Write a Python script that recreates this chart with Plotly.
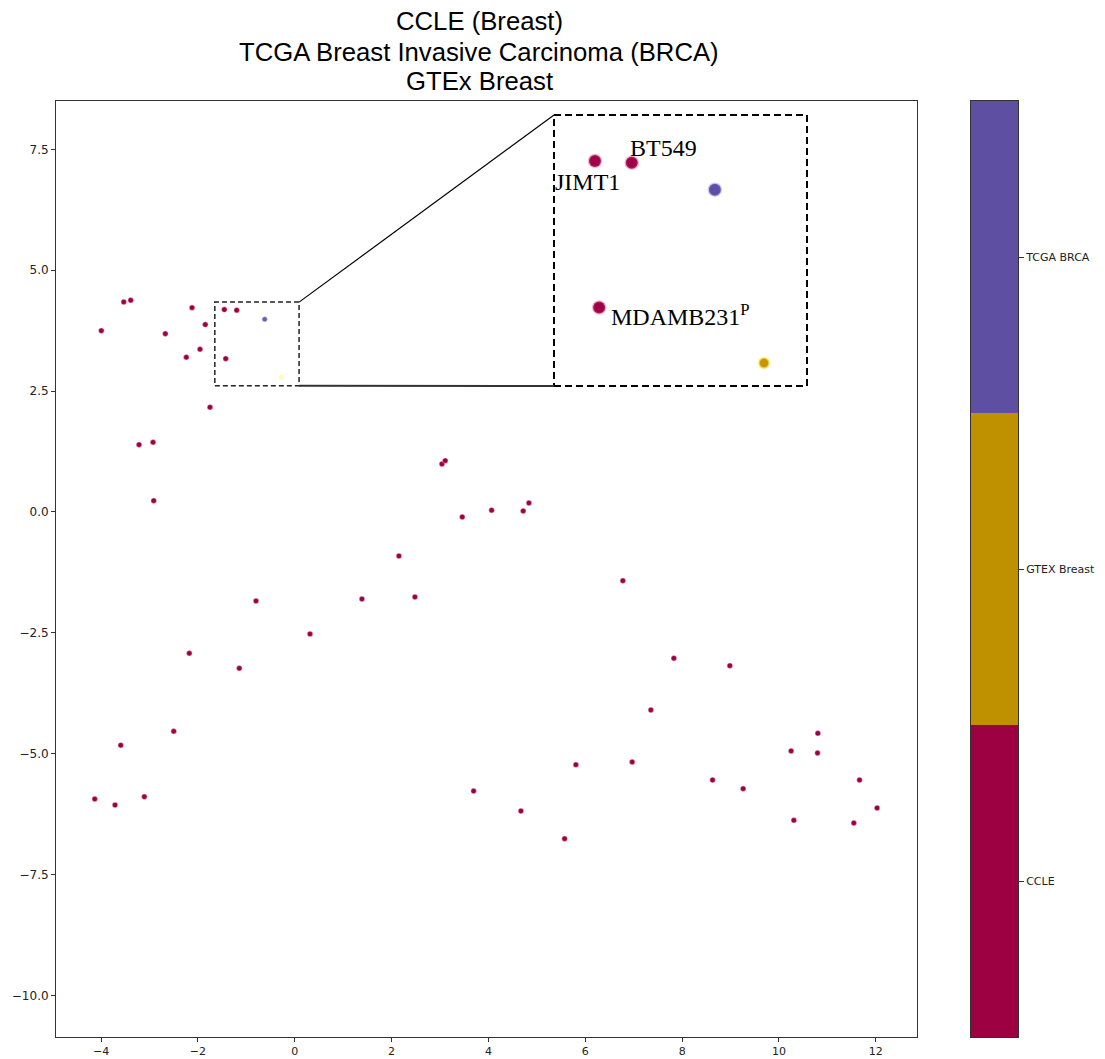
import plotly.graph_objects as go

# ---------------- data ----------------
ccle_x = [-3.994, -3.531, -3.387, -2.672, -2.121, -2.239, -1.956, -1.847, -1.454, -1.198,
          -1.425, -1.750, -3.215, -2.926, -2.912, 3.040, 3.108, 3.459, 4.066, 4.718,
          4.836, 2.152, -0.800, 0.315, 1.388, 2.482, -2.177, -1.145, -2.499, -3.593,
          -4.130, -3.711, -3.106, 6.776, 7.829, 8.985, 7.355, 10.802, 10.251, 10.796,
          5.806, 6.968, 11.663, 8.628, 9.260, 3.694, 12.026, 4.671, 10.307, 11.545, 5.573]
ccle_y = [3.750, 4.344, 4.379, 3.688, 4.226, 3.200, 3.366, 3.875, 4.185, 4.173,
          3.171, 2.166, 1.392, 1.442, 0.234, 0.993, 1.061, -0.103, 0.035, 0.021,
          0.186, -0.910, -1.841, -2.524, -1.800, -1.758, -2.923, -3.233, -4.537, -4.826,
          -5.937, -6.061, -5.890, -1.421, -3.026, -3.180, -4.096, -4.578, -4.944, -4.985,
          -5.228, -5.172, -5.544, -5.544, -5.724, -5.772, -6.123, -6.185, -6.378, -6.434, -6.758]
tcga_x = [-0.620]
tcga_y = [3.986]
gtex_x = [-0.278]
gtex_y = [2.787]

label_names = ["JIMT1", "BT549", "MDAMB231<sup>P</sup>"]
label_index = [8, 9, 10]          # indices into ccle_x / ccle_y

x_ticks = [-4, -2, 0, 2, 4, 6, 8, 10, 12]
x_ticktext = ["\u22124", "\u22122", "0", "2", "4", "6", "8", "10", "12"]
y_ticks = [7.5, 5.0, 2.5, 0.0, -2.5, -5.0, -7.5, -10.0]
y_ticktext = ["7.5", "5.0", "2.5", "0.0", "\u22122.5", "\u22125.0", "\u22127.5", "\u221210.0"]

cbar_labels = ["CCLE", "GTEX Breast", "TCGA BRCA"]
cbar_colors = ["#9e0142", "#bf9000", "#5e4fa2"]

zoom_box_x = [-1.65, 0.09]
zoom_box_y = [2.61, 4.34]

title_lines = ["CCLE (Breast)", "TCGA Breast Invasive Carcinoma (BRCA)", "GTEx Breast"]

# ---------------- layout helpers ----------------
OFF = 8   # page body margin
W, H = 1105 - OFF, 1059 - OFF
def fx(px):
    return (px - OFF) / W
def fy(py):
    return 1 - (py - OFF) / H

main_left, main_right, main_top, main_bottom = 56, 917, 101, 1037
xr = [-4.93, 12.85]
yr = [-10.86, 8.50]
inset_l, inset_r, inset_t, inset_b = 554, 807, 115, 386
ixr = [-1.739, 0.021]
iyr = [2.628, 4.503]

def data_to_px(x, y):
    px = main_left + (x - xr[0]) / (xr[1] - xr[0]) * (main_right - main_left)
    py = main_bottom - (y - yr[0]) / (yr[1] - yr[0]) * (main_bottom - main_top)
    return px, py

fig = go.Figure()

# main scatter
fig.add_trace(go.Scatter(x=ccle_x, y=ccle_y, mode="markers", xaxis="x", yaxis="y",
                         marker=dict(size=5.5, color="#9e0142", line=dict(width=0.6, color="rgba(255,200,220,0.8)")),
                         showlegend=False, hoverinfo="skip"))
fig.add_trace(go.Scatter(x=tcga_x, y=tcga_y, mode="markers", xaxis="x", yaxis="y",
                         marker=dict(size=5, color="#6a5db0", line=dict(width=0.5, color="#c8c2ea")),
                         showlegend=False, hoverinfo="skip"))
fig.add_trace(go.Scatter(x=gtex_x, y=gtex_y, mode="markers", xaxis="x", yaxis="y",
                         marker=dict(size=5, color="#fffbb0", line=dict(width=0)),
                         showlegend=False, hoverinfo="skip"))

# inset scatter
fig.add_trace(go.Scatter(x=ccle_x, y=ccle_y, mode="markers", xaxis="x2", yaxis="y2",
                         marker=dict(size=12, color="#a0004a", line=dict(width=2.5, color="rgba(200,60,110,0.35)")),
                         showlegend=False, hoverinfo="skip"))
fig.add_trace(go.Scatter(x=tcga_x, y=tcga_y, mode="markers", xaxis="x2", yaxis="y2",
                         marker=dict(size=12, color="#5b4fa8", line=dict(width=2.5, color="rgba(120,110,200,0.35)")),
                         showlegend=False, hoverinfo="skip"))
fig.add_trace(go.Scatter(x=gtex_x, y=gtex_y, mode="markers", xaxis="x2", yaxis="y2",
                         marker=dict(size=11, color="#c99600", line=dict(width=2.5, color="rgba(255,250,150,0.6)")),
                         showlegend=False, hoverinfo="skip"))

# discrete colorbar
fig.add_trace(go.Heatmap(x=[0], y=[0, 1, 2], z=[[0], [1], [2]], xaxis="x3", yaxis="y3",
                         zmin=0, zmax=2, showscale=False, hoverinfo="skip",
                         colorscale=[[0, cbar_colors[0]], [0.3333, cbar_colors[0]],
                                     [0.3333, cbar_colors[1]], [0.6667, cbar_colors[1]],
                                     [0.6667, cbar_colors[2]], [1, cbar_colors[2]]]))

xtickfont = dict(family="DejaVu Sans", size=11, color="#222")
ytickfont = dict(family="DejaVu Sans", size=12, color="#222")
cbfont = dict(family="DejaVu Sans", size=11, color="#222")
fig.update_layout(
    width=W, height=H, margin=dict(l=0, r=0, t=0, b=0),
    paper_bgcolor="white", plot_bgcolor="white", showlegend=False,
    xaxis=dict(domain=[fx(main_left), fx(main_right)], range=xr, anchor="y",
               tickvals=x_ticks, ticktext=x_ticktext, ticks="outside", ticklen=4,
               tickcolor="#333", showline=True, mirror=True, linecolor="#333", linewidth=1,
               showgrid=False, zeroline=False, tickfont=xtickfont),
    yaxis=dict(domain=[fy(main_bottom), fy(main_top)], range=yr, anchor="x",
               tickvals=y_ticks, ticktext=y_ticktext, ticks="outside", ticklen=4,
               tickcolor="#333", showline=True, mirror=True, linecolor="#333", linewidth=1,
               showgrid=False, zeroline=False, tickfont=ytickfont),
    xaxis2=dict(domain=[fx(inset_l), fx(inset_r)], range=ixr, anchor="y2", visible=False,
                showgrid=False, zeroline=False),
    yaxis2=dict(domain=[fy(inset_b), fy(inset_t)], range=iyr, anchor="x2", visible=False,
                showgrid=False, zeroline=False),
    xaxis3=dict(domain=[fx(971), fx(1018)], range=[-0.5, 0.5], anchor="y3",
                showticklabels=False, ticks="", showline=True, mirror=True,
                linecolor="#333", linewidth=1, showgrid=False, zeroline=False),
    yaxis3=dict(domain=[fy(main_bottom), fy(main_top)], range=[-0.5, 2.5], anchor="x3",
                side="right", tickvals=[0, 1, 2], ticktext=cbar_labels, ticks="outside",
                ticklen=5, tickcolor="#333", showline=True, mirror=True, linecolor="#333",
                linewidth=1, showgrid=False, zeroline=False, tickfont=cbfont),
)

# title lines
title_y = [21, 52, 81]
for t, ty in zip(title_lines, title_y):
    fig.add_annotation(text=t, x=fx(479), y=fy(ty), xref="paper", yref="paper",
                       xanchor="center", yanchor="middle", showarrow=False,
                       font=dict(family="Liberation Sans", size=25.7, color="black"))

# zoom rectangle on main axes
fig.add_shape(type="rect", xref="x", yref="y", x0=zoom_box_x[0], x1=zoom_box_x[1],
              y0=zoom_box_y[0], y1=zoom_box_y[1],
              line=dict(color="#222", width=1.5, dash="5px,3px"))
# inset border
fig.add_shape(type="rect", xref="paper", yref="paper", x0=fx(inset_l), x1=fx(inset_r),
              y0=fy(inset_b), y1=fy(inset_t),
              line=dict(color="black", width=2, dash="7px,4px"))
# connector lines
bx_r, by_t = data_to_px(zoom_box_x[1], zoom_box_y[1])
_, by_b = data_to_px(zoom_box_x[1], zoom_box_y[0])
fig.add_shape(type="line", xref="paper", yref="paper", x0=fx(bx_r), y0=fy(by_t),
              x1=fx(inset_l), y1=fy(inset_t), line=dict(color="black", width=1.2))
fig.add_shape(type="line", xref="paper", yref="paper", x0=fx(bx_r), y0=fy(by_b),
              x1=fx(inset_l), y1=fy(inset_b), line=dict(color="#333", width=2))

# point labels in inset
label_offsets = [dict(xanchor="right", xshift=27, yshift=-21),
                 dict(xanchor="left", xshift=-4, yshift=15),
                 dict(xanchor="left", xshift=10, yshift=-7)]
for name, idx, off in zip(label_names, label_index, label_offsets):
    fig.add_annotation(text=name, x=ccle_x[idx], y=ccle_y[idx], xref="x2", yref="y2",
                       showarrow=False, yanchor="middle",
                       font=dict(family="Liberation Serif", size=24, color="black"), **off)

fig.write_html("out.html")
